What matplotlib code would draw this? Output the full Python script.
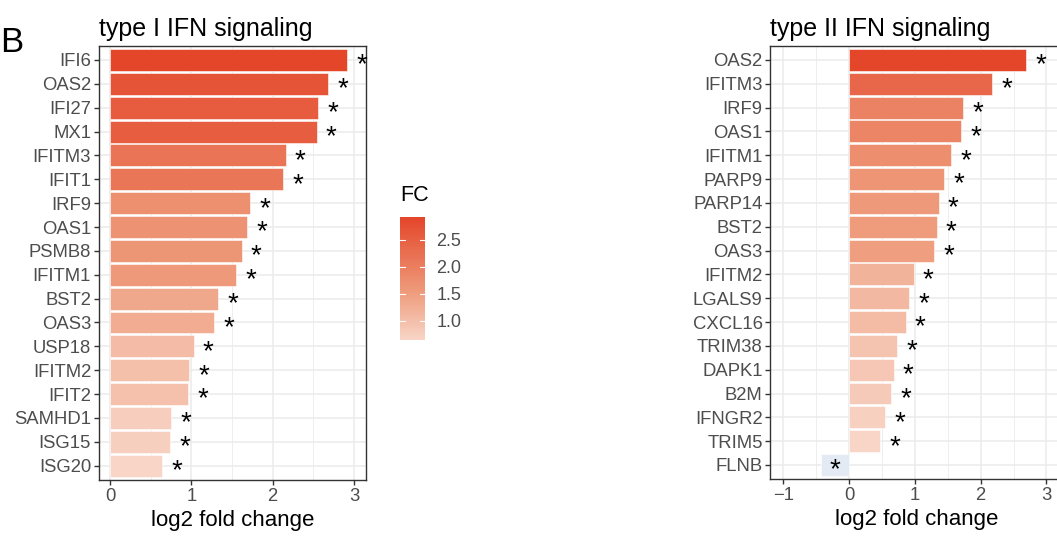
import numpy as np
import matplotlib
matplotlib.use("Agg")
import matplotlib.pyplot as plt
from matplotlib.colors import LinearSegmentedColormap, Normalize
from matplotlib.cm import ScalarMappable

plt.rcParams["font.family"] = ["Liberation Sans", "DejaVu Sans"]

# type I IFN signaling
genes1 = ["IFI6", "OAS2", "IFI27", "MX1", "IFITM3", "IFIT1", "IRF9", "OAS1", "PSMB8",
          "IFITM1", "BST2", "OAS3", "USP18", "IFITM2", "IFIT2", "SAMHD1", "ISG15", "ISG20"]
lfc1 = [2.92, 2.68, 2.56, 2.54, 2.16, 2.13, 1.72, 1.69, 1.62,
        1.55, 1.33, 1.28, 1.03, 0.97, 0.96, 0.75, 0.74, 0.64]

# type II IFN signaling
genes2 = ["OAS2", "IFITM3", "IRF9", "OAS1", "IFITM1", "PARP9", "PARP14", "BST2", "OAS3",
          "IFITM2", "LGALS9", "CXCL16", "TRIM38", "DAPK1", "B2M", "IFNGR2", "TRIM5", "FLNB"]
lfc2 = [2.69, 2.17, 1.73, 1.70, 1.55, 1.44, 1.36, 1.33, 1.29,
        0.98, 0.91, 0.86, 0.73, 0.68, 0.64, 0.55, 0.47, -0.43]

cmap = LinearSegmentedColormap.from_list(
    "fc", [(0, "#F8D5C6"), (0.4, "#EE9A7A"), (1, "#E4462A")])
neg_color = "#E3EAF3"

fig = plt.figure(figsize=(10.57, 5.36), dpi=100)


def panel(rect, genes, vals, title, xlim, xticks):
    ax = fig.add_axes(rect)
    vals = np.array(vals)
    pos = vals[vals > 0]
    norm = Normalize(pos.min(), pos.max())
    colors = [cmap(norm(v)) if v > 0 else neg_color for v in vals]
    y = np.arange(len(genes))
    ax.barh(y, vals, height=0.92, color=colors, edgecolor="white", linewidth=0.4, zorder=2)
    for yi, v in zip(y, vals):
        ax.annotate("*", xy=(v, yi), xytext=(10.5, -4), textcoords="offset points",
                    ha="center", va="center", fontsize=20, color="black", zorder=3)
    ax.set_ylim(len(genes) - 0.4, -0.6)
    ax.set_xlim(*xlim)
    ax.set_yticks(y)
    ax.set_yticklabels(genes)
    ax.set_xticks(xticks)
    ax.set_xticklabels([str(t).replace("-", "\u2212") for t in xticks])
    ax.set_xticks(np.array(xticks[:-1]) + 0.5, minor=True)
    ax.grid(True, which="major", color="#EBEBEB", linewidth=1.1, zorder=0)
    ax.grid(True, which="minor", axis="x", color="#EBEBEB", linewidth=0.6, zorder=0)
    ax.set_axisbelow(True)
    ax.tick_params(which="major", length=3.5, width=1, color="#333333",
                   labelcolor="#4D4D4D", labelsize=13.3, pad=2)
    ax.tick_params(which="minor", length=0)
    for s in ax.spines.values():
        s.set_color("#333333")
        s.set_linewidth(1)
    ax.set_xlabel("log2 fold change", fontsize=16, labelpad=4)
    ax.set_title(title, loc="left", fontsize=18, pad=7, x=0.0)
    return ax, norm


ax1, norm1 = panel([0.0934, 0.1045, 0.2526, 0.8103], genes1, lfc1,
                   "type I IFN signaling", (-0.139, 3.145), [0, 1, 2, 3])
ax2, _ = panel([0.7288, 0.1058, 0.2768, 0.8090], genes2, lfc2,
               "type II IFN signaling", (-1.196, 3.25), [-1, 0, 1, 2, 3])

# colour legend
cax = fig.add_axes([0.3784, 0.3657, 0.0237, 0.2289])
sm = ScalarMappable(norm=norm1, cmap=cmap)
cb = fig.colorbar(sm, cax=cax)
cb.outline.set_visible(False)
cb.set_ticks([1.0, 1.5, 2.0, 2.5])
cb.set_ticklabels(["1.0", "1.5", "2.0", "2.5"])
cax.tick_params(length=0, labelsize=13, labelcolor="#4D4D4D", pad=8)
tr = cax.get_yaxis_transform()
for t in [1.0, 1.5, 2.0, 2.5]:
    cax.plot([0, 0.2], [t, t], color="white", lw=0.8, transform=tr)
    cax.plot([0.8, 1], [t, t], color="white", lw=0.8, transform=tr)
fig.text(0.3784, 0.615, "FC", fontsize=15.5, ha="left", va="bottom")

fig.text(0.0, 0.952, "B", fontsize=25, ha="left", va="top")

fig.savefig("out.png", dpi=100)
